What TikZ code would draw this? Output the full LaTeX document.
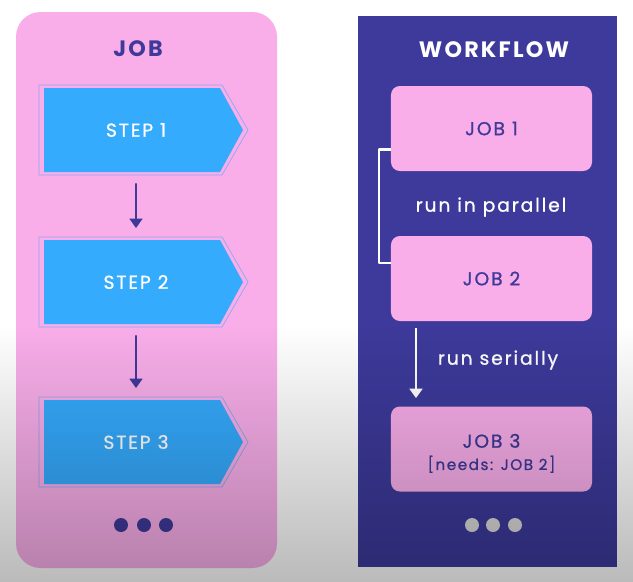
\documentclass[tikz,border=0pt]{standalone}
\usepackage{fontspec}
\usetikzlibrary{arrows.meta,fadings}
\newfontfamily\popfont[LetterSpace=10,FakeBold=0.9]{Poppins}
\newfontfamily\poptitle[LetterSpace=10]{Poppins Bold}
\definecolor{jobpink}{HTML}{F9AEEA}
\definecolor{stepblue}{HTML}{35ABFE}
\definecolor{stepline}{HTML}{8CA8F0}
\definecolor{navy}{HTML}{3F3A99}
\definecolor{flowblue}{HTML}{3D3A9B}
\definecolor{dotgrey}{HTML}{DADADA}
\tikzfading[name=lowfade,top color=transparent!100,bottom color=transparent!0]
\tikzset{
	title/.style={font=\poptitle\fontsize{19}{23}\selectfont},
	steptext/.style={inner sep=0pt,minimum width=5.28cm,minimum height=2.52cm,text=white,font=\popfont\fontsize{16}{19}\selectfont},
	steparrow/.style={->,navy,line width=1.6pt,shorten <=10pt,shorten >=10pt},
	jobbox/.style={fill=jobpink,rounded corners=7.5pt,minimum width=6.03cm,minimum height=2.55cm,inner sep=0pt,align=center,text=navy,font=\popfont\fontsize{16}{24}\selectfont},
	flowtext/.style={text=white,font=\popfont\fontsize{16}{19}\selectfont},
	flowline/.style={white,line width=1.8pt,line cap=butt}
}
\begin{document}
\begin{tikzpicture}[line cap=round,line join=round,>={Triangle[width=11pt,length=8pt]},x=0.03cm,y=-0.03cm]
	\useasboundingbox (0,0) rectangle (633,582);
	\fill[white] (0,0) rectangle (633,582);
	% job panel
	\fill[jobpink,rounded corners=21pt] (16,12) rectangle (277,568);
	\node[title,text=navy] (jobtitle) at (138,49) {JOB};
	\foreach \n/\y in {1/130,2/282,3/442}{
		\draw[stepline,line width=0.6pt] (39,\y-45)-- (222,\y-45)-- (248,\y)-- (222,\y+45)-- (39,\y+45)-- cycle;
		\fill[stepblue] (44,\y-42)-- (220,\y-42)-- (243,\y)-- (220,\y+42)-- (44,\y+42)-- cycle;
		\node[steptext] (step\n) at (136,\y) {STEP \n};
	}
	\draw[steparrow] (step1.south)-- (step2.north);
	\draw[steparrow] (step2.south)-- (step3.north);
	\foreach \x in {121,144,166}
		\fill[navy] (\x,525) circle (7);
	% workflow panel
	\fill[flowblue] (358,16) rectangle (617,567);
	\node[title,text=white] (flowtitle) at (494,50) {WORKFLOW};
	\node[jobbox] (job1) at (491.5,128.5) {JOB 1};
	\node[jobbox] (job2) at (491.5,278.5) {JOB 2};
	\node[jobbox] (job3) at (491.5,449) {\begin{tabular}{@{}c@{}}\rule{0pt}{24pt}JOB 3\\[-5pt]{\fontsize{13}{15}\selectfont[needs: JOB 2]}\end{tabular}};
	\coordinate (serialx) at (416,0);
	\draw[flowline] ([yshift=-17.9pt]job1.west)-- ++(-12,0) |- ([yshift=13.2pt]job2.west);
	\draw[->,flowline,shorten <=6pt,shorten >=7pt] (job2.south -| serialx)-- (job3.north -| serialx);
	\node[flowtext] (parallel) at (491,207) {run in parallel};
	\node[flowtext] (serially) at (498,360) {run serially};
	\foreach \x in {472,493,515}
		\fill[dotgrey] (\x,525) circle (7);
	% grey shadow at the bottom
	\fill[black,fill opacity=0.28,path fading=lowfade] (0,325) rectangle (633,590);
\end{tikzpicture}
\end{document}
